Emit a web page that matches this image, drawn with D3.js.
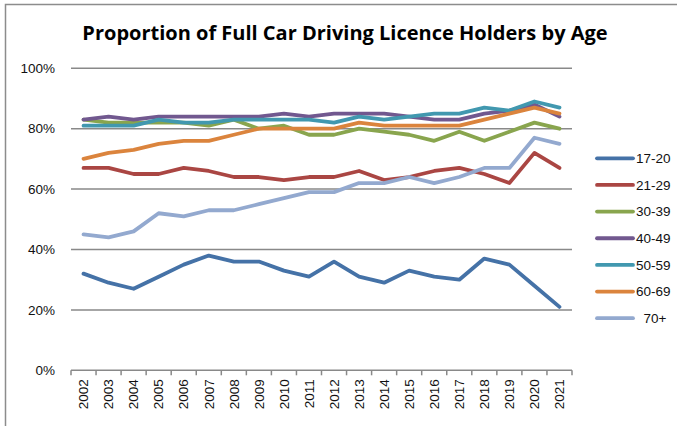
<!DOCTYPE html>
<html><head><meta charset="utf-8">
<script src="https://cdn.jsdelivr.net/npm/d3@7"></script>
<style>body{margin:0;background:#fff;} svg{display:block;}</style>
</head><body>
<script>
const years = ["2002","2003","2004","2005","2006","2007","2008","2009","2010","2011","2012","2013","2014","2015","2016","2017","2018","2019","2020","2021"];
const seriesNames = ["17-20","21-29","30-39","40-49","50-59","60-69","70+"];
const legendLabels = ["17-20","21-29","30-39","40-49","50-59","60-69","  70+"];
const colors = ["#4572A7","#AA4643","#89A54E","#71588F","#4198AF","#DB843D","#93A9CF"];
const v1720 = [32,29,27,31,35,38,36,36,33,31,36,31,29,33,31,30,37,35,28,21];
const v2129 = [67,67,65,65,67,66,64,64,63,64,64,66,63,64,66,67,65,62,72,67];
const v3039 = [83,82,82,82,82,81,83,80,81,78,78,80,79,78,76,79,76,79,82,80];
const v4049 = [83,84,83,84,84,84,84,84,85,84,85,85,85,84,83,83,85,86,88,84];
const v5059 = [81,81,81,83,82,82,83,83,83,83,82,84,83,84,85,85,87,86,89,87];
const v6069 = [70,72,73,75,76,76,78,80,80,80,80,82,81,81,81,81,83,85,87,85];
const v70p  = [45,44,46,52,51,53,53,55,57,59,59,62,62,64,62,64,67,67,77,75];
const seriesValues = [v1720,v2129,v3039,v4049,v5059,v6069,v70p];
const yTicks = [0,20,40,60,80,100];
const title = "Proportion of Full Car Driving Licence Holders by Age";

const W = 677, H = 426;
const svg = d3.select("body").append("svg").attr("width", W).attr("height", H);

svg.append("rect").attr("x",5.5).attr("y",4.5).attr("width",720).attr("height",460)
  .attr("fill","#fff").attr("stroke","#8c8c8c").attr("stroke-width",1.5);

svg.append("text").attr("x",345).attr("y",40).attr("text-anchor","middle")
  .attr("font-family","'Open Sans', sans-serif").attr("font-weight","bold")
  .attr("font-size",20).attr("fill","#000").text(title);

const x = d3.scaleBand().domain(years).range([71,572]);
const y = d3.scaleLinear().domain([0,100]).range([370.3,68.3]);

// gridlines
svg.append("g").selectAll("line").data(yTicks.filter(t=>t>0)).join("line")
  .attr("x1",71).attr("x2",572).attr("y1",d=>y(d)).attr("y2",d=>y(d))
  .attr("stroke","#898989").attr("stroke-width",1.5);

// y labels
svg.append("g").selectAll("text").data(yTicks).join("text")
  .attr("x",55).attr("y",d=>y(d)).attr("dy","0.35em").attr("text-anchor","end")
  .attr("font-family","'Liberation Sans', Arial, sans-serif").attr("font-size",13.5).attr("fill","#111")
  .text(d=>d+"%");

// x axis
const xAxis = svg.append("g").attr("transform",`translate(0,${y(0)})`);
xAxis.append("line").attr("x1",71).attr("x2",572).attr("stroke","#898989").attr("stroke-width",1.5);
const bounds = years.map(d=>x(d)).concat([x(years[years.length-1])+x.bandwidth()]);
xAxis.selectAll("line.tick").data(bounds).join("line").attr("class","tick")
  .attr("x1",d=>d).attr("x2",d=>d).attr("y1",0).attr("y2",5)
  .attr("stroke","#898989").attr("stroke-width",1.5);
xAxis.selectAll("text").data(years).join("text")
  .attr("transform",d=>`translate(${x(d)+x.bandwidth()/2},9) rotate(-90)`)
  .attr("text-anchor","end").attr("dy","0.35em")
  .attr("font-family","'Liberation Sans', Arial, sans-serif").attr("font-size",13.5).attr("fill","#111")
  .text(d=>d);

// lines
const line = d3.line().x((d,i)=>x(years[i])+x.bandwidth()/2).y(d=>y(d));
const order = [0,1,2,3,4,5,6];
svg.append("g").selectAll("path").data(order).join("path")
  .attr("d",i=>line(seriesValues[i])).attr("fill","none")
  .attr("stroke",i=>colors[i]).attr("stroke-width",3.8)
  .attr("stroke-linejoin","round").attr("stroke-linecap","round");

// legend
const lg = svg.append("g").selectAll("g").data(seriesNames).join("g")
  .attr("transform",(d,i)=>`translate(597,${158.3+i*26.65})`);
lg.append("line").attr("x1",0).attr("x2",36).attr("stroke",(d,i)=>colors[i])
  .attr("stroke-width",3.8).attr("stroke-linecap","round");
lg.append("text").attr("x",39).attr("dy","0.35em")
  .attr("font-family","'Liberation Sans', Arial, sans-serif").attr("font-size",13.5).attr("fill","#111")
  .style("white-space","pre").text((d,i)=>legendLabels[i]);
</script>
</body></html>
